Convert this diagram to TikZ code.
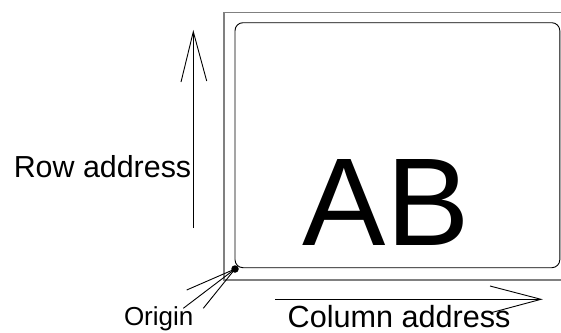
\documentclass[tikz,border=0pt]{standalone}
\usepackage{fontspec}
\setmainfont{Liberation Sans}
\begin{document}
\begin{tikzpicture}[x=1pt,y=-1pt,
  thin line/.style={line width=0.9pt, black},
  frame line/.style={line width=1.6pt, draw=black!50},
  label text/.style={inner sep=0pt, anchor=base west, font=\fontsize{30.4}{31}\selectfont},
]
\useasboundingbox (0,0) rectangle (561,332);
\clip (0,0) rectangle (561,332);
% frames
\draw[frame line] (224,12.3) rectangle (580,280);
\draw[thin line, rounded corners=8pt] (235,22.7) rectangle (559.8,267.7);
% big text
\node[inner sep=0pt, anchor=base, font=\fontsize{125}{125}\selectfont] (ab) at (386,245) {AB};
% row address arrow
\coordinate (rowtail) at (193.3,228);
\coordinate (rowtip) at (193.3,31.7);
\coordinate (rowbl) at (181,82);
\coordinate (rowbr) at (206.7,81);
\draw[thin line] (rowtail) -- (rowtip);
\draw[thin line] (rowbl) -- (rowtip) -- (rowbr);
\node[label text] (rowlabel) at (13.6,177.3) {Row address};
% column address arrow
\coordinate (coltail) at (275,299.3);
\coordinate (coltip) at (541,299.3);
\coordinate (colbu) at (490,286);
\coordinate (colbd) at (490,313);
\draw[thin line] (coltail) -- (coltip);
\draw[thin line] (colbu) -- (coltip) -- (colbd);
\node[label text, font=\fontsize{30.6}{31}\selectfont] (collabel) at (287.5,327) {Column address};
% origin
\node[circle, fill=black, inner sep=0pt, minimum size=7.5pt] (origin) at (235,269) {};
\coordinate (o1) at (186.7,290);
\coordinate (o2) at (183.3,308.3);
\coordinate (o3) at (203.3,308.3);
\draw[thin line] (origin.center) -- (o1);
\draw[thin line] (origin.center) -- (o2);
\draw[thin line] (origin.center) -- (o3);
\node[label text, font=\fontsize{26}{26}\selectfont] (originlabel) at (123.8,325.7) {Origin};
\end{tikzpicture}
\end{document}
